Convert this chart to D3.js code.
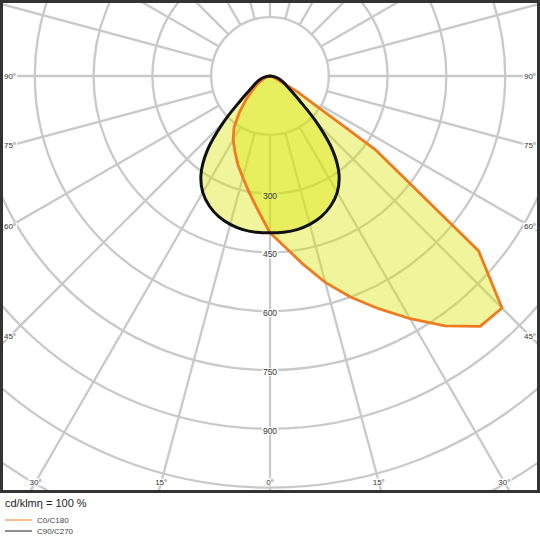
<!DOCTYPE html>
<html>
<head>
<meta charset="utf-8">
<script src="https://cdn.jsdelivr.net/npm/d3@7"></script>
<style>
  html, body { margin: 0; padding: 0; background: #fff; }
  svg { display: block; font-family: "Liberation Sans", Arial, sans-serif; }
</style>
</head>
<body>
<svg id="chart" width="540" height="540"></svg>
<script>
// ---- data ----
const gammaAngles = [0,5,10,15,20,25,30,35,40,45,50,55,60,65,70,75,80,85,90];
const c0Values   = [400,438,488,545,600,655,715,778,834,837,695,330,80,20,8,3,1,0,0];
const c180Values = [400,345,303,268,240,212,188,160,122,88,62,44,30,20,12,6,3,1,0];
const c90Values  = [400,400,398,392,382,366,343,307,250,170,100,65,48,38,28,20,12,5,0];
const c270Values = [400,400,398,392,382,366,343,307,250,170,100,65,48,38,28,20,12,5,0];
const ringValues = [150,300,450,600,750,900,1050,1200,1350];
const ringLabels = [300,450,600,750,900];
const angleTicks = [0,15,30,45,60,75,90];
const seriesNames = ["C0/C180","C90/C270"];
const unitText = "cd/klmη = 100 %";

// ---- layout ----
const svg = d3.select("#chart");
const cx = 270, cy = 76;
const frame = {x: 1.5, y: 1.5, w: 537, h: 490};
const r = d3.scaleLinear().domain([0, 150]).range([0, 58.8]);
const rad = d => d * Math.PI / 180;

svg.append("defs").append("clipPath").attr("id", "clip")
  .append("rect").attr("x", 3).attr("y", 3).attr("width", 534).attr("height", 487);

const plot = svg.append("g").attr("clip-path", "url(#clip)");
const g = plot.append("g").attr("transform", `translate(${cx},${cy})`);

const gridColor = "#c9c9c9";
const spokes = d3.range(0, 360, 15);
g.selectAll("line.spoke").data(spokes).join("line")
  .attr("x1", d => r(150) * Math.sin(rad(d)))
  .attr("y1", d => r(150) * Math.cos(rad(d)))
  .attr("x2", d => r(1500) * Math.sin(rad(d)))
  .attr("y2", d => r(1500) * Math.cos(rad(d)))
  .attr("stroke", gridColor).attr("stroke-width", 2.3);
g.selectAll("circle.ring").data(ringValues).join("circle")
  .attr("r", d => r(d)).attr("fill", "none")
  .attr("stroke", gridColor).attr("stroke-width", 2.3);

// ring label backgrounds (measured from temporary text)
const bgG = g.append("g");
const tmp = g.append("g");
tmp.selectAll("text").data(ringLabels).join("text")
  .attr("x", 0).attr("y", d => r(d) + 2)
  .attr("text-anchor", "middle").attr("dominant-baseline", "central")
  .attr("font-size", 8.5).text(d => d)
  .each(function() {
    const b = this.getBBox();
    bgG.append("rect").attr("x", b.x - 1).attr("y", b.y + 1)
      .attr("width", b.width + 2).attr("height", b.height - 2).attr("fill", "#fff");
  });
tmp.remove();

// curves
function series(right, left) {
  const pts = [];
  for (let i = gammaAngles.length - 1; i >= 0; i--) pts.push([Math.PI - rad(gammaAngles[i]), right[i]]);
  for (let i = 1; i < gammaAngles.length; i++) pts.push([Math.PI + rad(gammaAngles[i]), left[i]]);
  return pts;
}
const lineSharp = d3.lineRadial().angle(d => d[0]).radius(d => r(d[1])).curve(d3.curveLinearClosed);
const lineSmooth = d3.lineRadial().angle(d => d[0]).radius(d => r(d[1])).curve(d3.curveCatmullRomClosed.alpha(0.5));
const fillColor = "rgb(216,229,0)";
const shapes = [
  {pts: series(c0Values, c180Values), stroke: "#ef7a1f", w: 2.8, gen: lineSharp},
  {pts: series(c90Values, c270Values), stroke: "#111", w: 3, gen: lineSmooth}
];
g.selectAll("path.fill").data(shapes).join("path")
  .attr("d", d => d.gen(d.pts)).attr("fill", fillColor).attr("fill-opacity", 0.39).attr("stroke", "none");
g.selectAll("path.stroke").data(shapes).join("path")
  .attr("d", d => d.gen(d.pts)).attr("fill", "none")
  .attr("stroke", d => d.stroke).attr("stroke-width", d => d.w).attr("stroke-linejoin", "round");

// ring label texts on top
g.append("g").selectAll("text").data(ringLabels).join("text")
  .attr("x", 0).attr("y", d => r(d) + 2)
  .attr("text-anchor", "middle").attr("dominant-baseline", "central")
  .attr("font-size", 8.5).attr("fill", "#333")
  .text(d => d);

// angle labels along inset rectangle
const inset = {x0: 10, x1: 530, y1: 482};
const angLabels = [];
angleTicks.forEach(a => {
  [1, -1].forEach(s => {
    if (a === 0 && s === -1) return;
    const dx = s * Math.sin(rad(a)), dy = Math.cos(rad(a));
    let t = Infinity;
    if (dx > 1e-9) t = Math.min(t, (inset.x1 - cx) / dx);
    if (dx < -1e-9) t = Math.min(t, (inset.x0 - cx) / dx);
    if (dy > 1e-9) t = Math.min(t, (inset.y1 - cy) / dy);
    angLabels.push({a, x: cx + t * dx, y: cy + t * dy});
  });
});
const angG = plot.append("g");
const angBg = angG.append("g");
angG.append("g").selectAll("text").data(angLabels).join("text")
  .attr("x", d => d.x).attr("y", d => d.y)
  .attr("text-anchor", "middle").attr("dominant-baseline", "central")
  .attr("font-size", 8).attr("fill", "#333")
  .text(d => d.a + "°")
  .each(function() {
    const b = this.getBBox();
    angBg.append("rect").attr("x", b.x - 1).attr("y", b.y + 1)
      .attr("width", b.width + 2).attr("height", b.height - 2).attr("fill", "#fff");
  });

// frame
svg.append("rect").attr("x", frame.x).attr("y", frame.y)
  .attr("width", frame.w).attr("height", frame.h)
  .attr("fill", "none").attr("stroke", "#333").attr("stroke-width", 3);

// unit text
svg.append("text").attr("x", 5).attr("y", 503).attr("dominant-baseline", "central")
  .attr("font-size", 11).attr("fill", "#222").text(unitText);

// legend
const legColors = ["#ef7a1f", "#222"];
const leg = svg.append("g").selectAll("g").data(seriesNames).join("g")
  .attr("transform", (d, i) => `translate(0,${520 + i * 11})`);
leg.append("line").attr("x1", 5).attr("x2", 32).attr("y1", 0).attr("y2", 0)
  .attr("stroke", (d, i) => legColors[i]).attr("stroke-width", 1);
leg.append("text").attr("x", 37).attr("y", 0.5).attr("dominant-baseline", "central")
  .attr("font-size", 8).attr("fill", "#444").text(d => d);
</script>
</body>
</html>
